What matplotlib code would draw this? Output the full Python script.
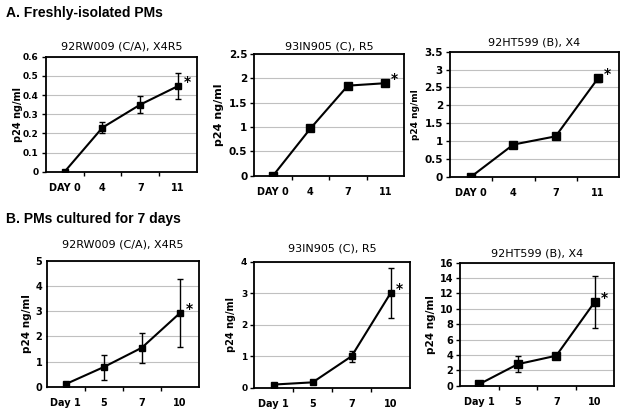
import matplotlib.pyplot as plt

plt.rcParams['font.family'] = ['DejaVu Sans']

W, H = 624, 415

# panel A: freshly isolated PMs
days_a = ['DAY 0', '4', '7', '11']
a1_vals = [0.0, 0.23, 0.35, 0.447]
a1_err = [0.0, 0.03, 0.045, 0.07]
a2_vals = [0.0, 0.97, 1.85, 1.90]
a2_err = [0.0, 0.0, 0.0, 0.05]
a3_vals = [0.0, 0.90, 1.13, 2.75]
a3_err = [0.0, 0.0, 0.04, 0.10]

# panel B: PMs cultured 7 days
days_b = ['Day 1', '5', '7', '10']
b1_vals = [0.1, 0.78, 1.55, 2.93]
b1_err = [0.0, 0.5, 0.6, 1.36]
b2_vals = [0.1, 0.17, 1.0, 3.0]
b2_err = [0.0, 0.0, 0.18, 0.8]
b3_vals = [0.2, 2.8, 3.9, 10.9]
b3_err = [0.0, 1.05, 0.1, 3.4]

titles = ['92RW009 (C/A), X4R5', '93IN905 (C), R5', '92HT599 (B), X4']

fig = plt.figure(figsize=(W / 100, H / 100), dpi=100)


def panel(box, labels, vals, err, title, ymax, ystep, yfs, xfs, lab_x, lab_fs, msize, tpad, ytl=3):
    l, r, t, b = box
    ax = fig.add_axes([l / W, 1 - b / H, (r - l) / W, (b - t) / H])
    x = list(range(len(labels)))
    ax.errorbar(x, vals, yerr=err, color='black', lw=1.5, marker='s',
                markersize=msize, capsize=2.5, elinewidth=1.0, capthick=1.0, zorder=3)
    ax.set_xlim(-0.5, 3.5)
    ax.set_ylim(0, ymax)
    n = int(round(ymax / ystep))
    yt = [i * ystep for i in range(n + 1)]
    ax.set_yticks(yt)
    ax.set_yticklabels(['%g' % round(v, 2) for v in yt], fontsize=yfs, fontweight='bold')
    ax.set_xticks(x)
    ax.set_xticklabels(labels, fontsize=xfs, fontweight='bold')
    ax.set_xticks([0.5, 1.5, 2.5], minor=True)
    ax.tick_params(axis='x', which='major', length=0, pad=8)
    ax.tick_params(axis='x', which='minor', length=3, width=1)
    ax.tick_params(axis='y', length=ytl, width=1, pad=2)
    ax.grid(axis='y', color='#c0c0c0', lw=0.8)
    ax.set_axisbelow(True)
    for s in ax.spines.values():
        s.set_linewidth(1.3)
    ax.set_title(title, fontsize=8, pad=tpad)
    ax.set_ylabel('p24 ng/ml', fontsize=lab_fs, fontweight='bold')
    ax.yaxis.set_label_coords((lab_x + 5.5 - l) / (r - l), 0.5)
    ax.annotate('*', (x[-1], vals[-1]), xytext=(4, 0), textcoords='offset points',
                fontsize=10, fontweight='bold')
    return ax


panel((45.7, 197, 56.7, 171.7), days_a, a1_vals, a1_err, titles[0], 0.6, 0.1, 6.5, 7, 18, 7, 5, 5.5)
panel((254.3, 404, 54, 175.7), days_a, a2_vals, a2_err, titles[1], 2.5, 0.5, 7.5, 7, 218, 8, 5.5, 3.2)
panel((450, 619, 51.7, 176.7), days_a, a3_vals, a3_err, titles[2], 3.5, 0.5, 7.5, 7, 415, 6.5, 5.5, 4.2)
panel((46.5, 199, 261, 386.7), days_b, b1_vals, b1_err, titles[0], 5, 1, 7, 7, 27, 7.5, 4.5, 10, ytl=1)
panel((254.3, 410, 261.7, 387.7), days_b, b2_vals, b2_err, titles[1], 4, 1, 6.5, 7, 231, 7, 5, 7)
panel((460, 614, 262.7, 385.7), days_b, b3_vals, b3_err, titles[2], 16, 2, 7, 7, 431, 7.5, 5.5, 4.2)

fig.text(6 / W, 1 - 13 / H, 'A. Freshly-isolated PMs', fontsize=10, fontweight='bold', va='center',
         family='Liberation Sans')
fig.text(6 / W, 1 - 219 / H, 'B. PMs cultured for 7 days', fontsize=10, fontweight='bold', va='center',
         family='Liberation Sans')

fig.savefig('out.png', dpi=100)
